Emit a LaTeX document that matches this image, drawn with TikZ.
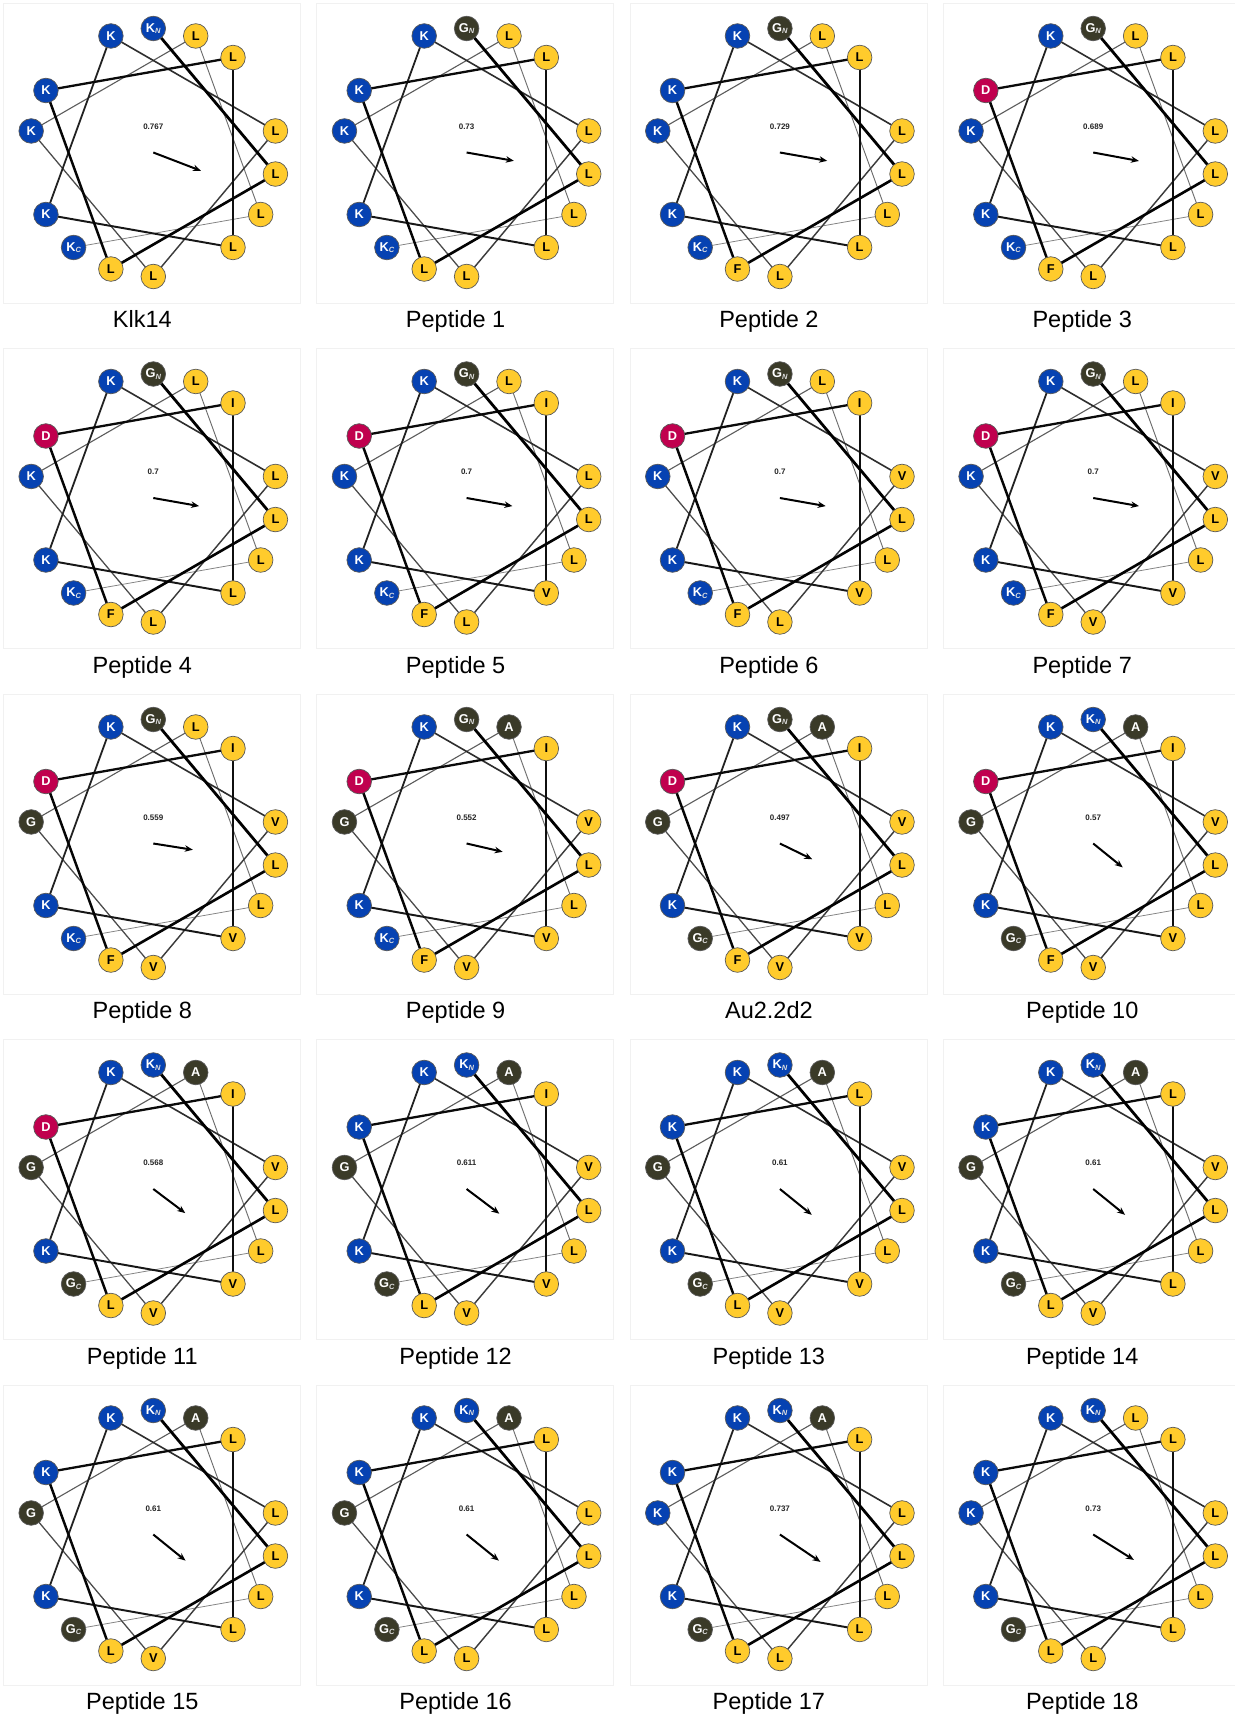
\documentclass[tikz,border=0pt]{standalone}
\usepackage{fontspec}
\setmainfont{Liberation Sans}
\usetikzlibrary{arrows.meta}
\pgfdeclarelayer{background}
\pgfsetlayers{background,main}
\definecolor{cK}{RGB}{6,66,178}
\definecolor{cY}{RGB}{255,203,44}
\definecolor{cG}{RGB}{58,58,40}
\definecolor{cD}{RGB}{192,0,78}
\definecolor{boxgray}{RGB}{241,241,241}
\newcommand\subl[1]{\raisebox{-1.3pt}{\fontsize{7.5}{7.5}\selectfont\itshape\color{white!75!gray}#1}}
\tikzset{
  resbase/.style={circle,draw=black!65,line width=0.7pt,minimum size=24.6pt,inner sep=0pt,
    font=\fontsize{12.8}{12.8}\selectfont\bfseries},
  resK/.style={resbase,fill=cK,text=white},
  resG/.style={resbase,fill=cG,text=white},
  resA/.style={resbase,fill=cG,text=white},
  resD/.style={resbase,fill=cD,text=white},
  resL/.style={resbase,fill=cY,text=black},
  resI/.style={resbase,fill=cY,text=black},
  resV/.style={resbase,fill=cY,text=black},
  resF/.style={resbase,fill=cY,text=black},
  panelbox/.style={draw=boxgray,line width=0.7pt},
  valtext/.style={font=\fontsize{8}{9}\selectfont\bfseries,text=black!85,inner sep=0pt},
  moment/.style={line width=2pt,-{Stealth[length=8pt,width=6.5pt]}},
  lbl/.style={font=\fontsize{23.5}{28}\selectfont,anchor=base,inner sep=0pt}
}
\newcommand\helwheel[8]{%
 \begin{scope}[shift={({153.3+313.3*#2},{-152.5-345.5*#3})}]
  \begin{pgfonlayer}{background}
   \draw[panelbox] (-150,149.5) rectangle (147,-150.5);
  \end{pgfonlayer}
  \coordinate (w#1-c) at (0,0);
  \foreach \rr [count=\k from 0] in {#4} {
    \node[res\rr] (w#1-\k) at ({90-100*\k}:124) {\rr\ifnum\k=0 \subl{N}\fi\ifnum\k=13 \subl{C}\fi};
  }
  \begin{pgfonlayer}{background}
  \foreach \k in {12,11,...,0} {
    \pgfmathtruncatemacro\kn{\k+1}
    \pgfmathsetmacro\lw{2.8-0.17*\k}
    \pgfmathtruncatemacro\gr{100-0.35*\k*\k}
    \draw[line width=\lw pt, black!\gr] (w#1-\k.center) -- (w#1-\kn.center);
  }
  \end{pgfonlayer}
  \node[valtext] (w#1-v) at (0,26) {#5};
  \coordinate (w#1-t) at (#6:#7);
  \draw[moment] (w#1-c) -- (w#1-t);
  \node[lbl] (w#1-l) at (-11,-175) {#8};
 \end{scope}}
\begin{document}
\begin{tikzpicture}[x=1pt,y=1pt]
\useasboundingbox (0,0) rectangle (1234,-1718);
\begin{pgfonlayer}{background}
\fill[white] (0,0) rectangle (1234,-1718);
\end{pgfonlayer}
\helwheel{0}{0}{0}{K,L,L,K,L,L,K,K,L,L,K,L,L,K}{0.767}{-21}{51}{Klk14}
\helwheel{1}{1}{0}{G,L,L,K,L,L,K,K,L,L,K,L,L,K}{0.73}{-10}{48}{Peptide 1}
\helwheel{2}{2}{0}{G,L,F,K,L,L,K,K,L,L,K,L,L,K}{0.729}{-10}{48}{Peptide 2}
\helwheel{3}{3}{0}{G,L,F,D,L,L,K,K,L,L,K,L,L,K}{0.689}{-10.5}{46.5}{Peptide 3}
\helwheel{4}{0}{1}{G,L,F,D,I,L,K,K,L,L,K,L,L,K}{0.7}{-10}{46.5}{Peptide 4}
\helwheel{5}{1}{1}{G,L,F,D,I,V,K,K,L,L,K,L,L,K}{0.7}{-10}{46.5}{Peptide 5}
\helwheel{6}{2}{1}{G,L,F,D,I,V,K,K,V,L,K,L,L,K}{0.7}{-10}{46.5}{Peptide 6}
\helwheel{7}{3}{1}{G,L,F,D,I,V,K,K,V,V,K,L,L,K}{0.7}{-10}{46.5}{Peptide 7}
\helwheel{8}{0}{2}{G,L,F,D,I,V,K,K,V,V,G,L,L,K}{0.559}{-9}{40}{Peptide 8}
\helwheel{9}{1}{2}{G,L,F,D,I,V,K,K,V,V,G,A,L,K}{0.552}{-13}{37}{Peptide 9}
\helwheel{10}{2}{2}{G,L,F,D,I,V,K,K,V,V,G,A,L,G}{0.497}{-26}{36}{Au2.2d2}
\helwheel{11}{3}{2}{K,L,F,D,I,V,K,K,V,V,G,A,L,G}{0.57}{-39}{38}{Peptide 10}
\helwheel{12}{0}{3}{K,L,L,D,I,V,K,K,V,V,G,A,L,G}{0.568}{-37}{40}{Peptide 11}
\helwheel{13}{1}{3}{K,L,L,K,I,V,K,K,V,V,G,A,L,G}{0.611}{-37}{41}{Peptide 12}
\helwheel{14}{2}{3}{K,L,L,K,L,V,K,K,V,V,G,A,L,G}{0.61}{-39}{41}{Peptide 13}
\helwheel{15}{3}{3}{K,L,L,K,L,L,K,K,V,V,G,A,L,G}{0.61}{-39}{41}{Peptide 14}
\helwheel{16}{0}{4}{K,L,L,K,L,L,K,K,L,V,G,A,L,G}{0.61}{-39}{41.5}{Peptide 15}
\helwheel{17}{1}{4}{K,L,L,K,L,L,K,K,L,L,G,A,L,G}{0.61}{-39}{41.5}{Peptide 16}
\helwheel{18}{2}{4}{K,L,L,K,L,L,K,K,L,L,K,A,L,G}{0.737}{-34}{49}{Peptide 17}
\helwheel{19}{3}{4}{K,L,L,K,L,L,K,K,L,L,K,L,L,G}{0.73}{-32}{48}{Peptide 18}
\end{tikzpicture}
\end{document}
